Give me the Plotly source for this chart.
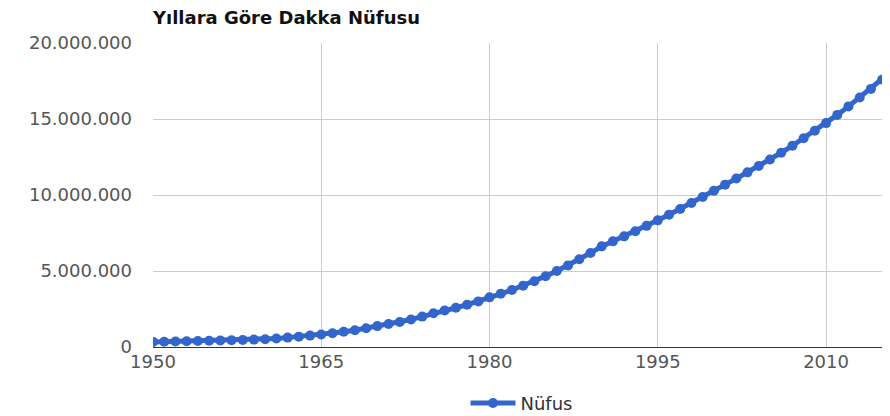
import plotly.graph_objects as go

# --- DADOS ---
yillar = list(range(1950, 2017))
nufus = [
    336000, 350000, 364000, 379000, 394000, 409000, 427000, 446000, 466000, 487000,
    508000, 560000, 617000, 680000, 749000, 821000, 910000, 1000000, 1100000, 1230000,
    1374000, 1510000, 1650000, 1810000, 2000000, 2221000, 2400000, 2580000, 2780000, 3000000,
    3266000, 3500000, 3750000, 4030000, 4330000, 4660000, 5000000, 5370000, 5770000, 6180000,
    6621000, 6950000, 7280000, 7620000, 7970000, 8332000, 8700000, 9080000, 9470000, 9870000,
    10285000, 10680000, 11080000, 11490000, 11910000, 12330000, 12780000, 13240000, 13730000, 14230000,
    14731000, 15270000, 15830000, 16410000, 16980000, 17598000, 18240000,
]
x_ticks = [1950, 1965, 1980, 1995, 2010]
y_ticks = [0, 5000000, 10000000, 15000000, 20000000]

fonte = "DejaVu Sans"

fig = go.Figure()

fig.add_trace(go.Scatter(
    x=yillar, y=nufus, name="Nüfus",
    mode="lines+markers",
    line=dict(color="#3366CC", width=5),
    marker=dict(color="#3366CC", size=10),
))

# a página tem margem de 8px no body
fig.update_layout(
    width=882, height=408,
    margin=dict(l=145, r=0, t=35, b=69, autoexpand=False),
    paper_bgcolor="white", plot_bgcolor="white",
    separators=",.",
    font=dict(family=fonte, size=18, color="#555555"),
    title=dict(
        text="<b>Yıllara Göre Dakka Nüfusu</b>",
        x=0, xref="paper", xanchor="left",
        y=0.977, yref="container", yanchor="middle",
        font=dict(family=fonte, size=18, color="#111111"),
    ),
    showlegend=True,
    legend=dict(
        orientation="h", x=0.5, xanchor="center", y=-0.185, yanchor="middle",
        itemwidth=45,
        font=dict(family=fonte, size=18, color="#333333"),
    ),
)

fig.update_xaxes(
    range=[1950, 2015.7], tickvals=x_ticks,
    showgrid=True, gridcolor="#cccccc", gridwidth=1,
    showline=False, zeroline=False,
    ticks="", ticklabelstandoff=2,
)
fig.update_yaxes(
    range=[0, 20000000], tickvals=y_ticks, tickformat=",d",
    showgrid=True, gridcolor="#cccccc", gridwidth=1,
    zeroline=True, zerolinecolor="#333333", zerolinewidth=1,
    ticks="", ticklabelstandoff=20,
)

fig.write_html("out.html")
